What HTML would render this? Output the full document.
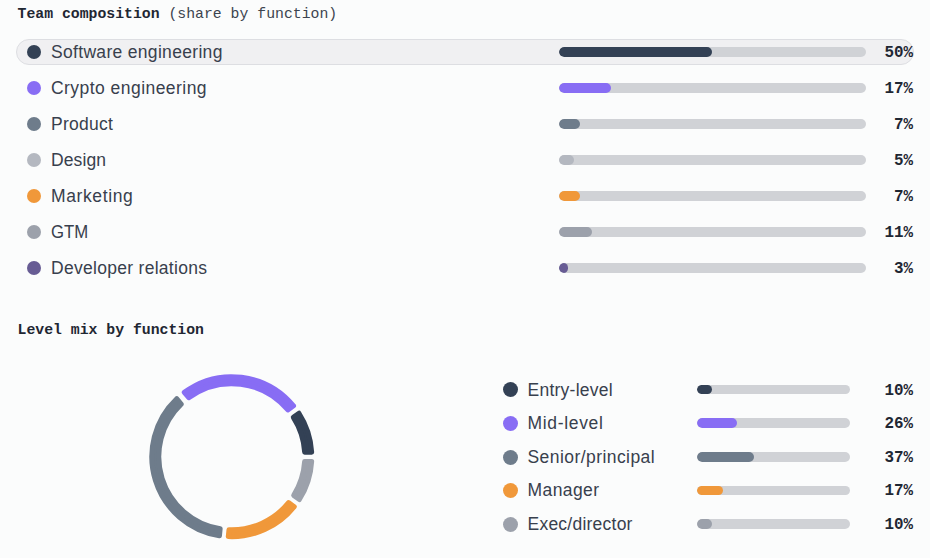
<!DOCTYPE html>
<html lang="en"><head><meta charset="utf-8"><title>Team composition</title>
<style>
html,body{margin:0;padding:0}
body{width:930px;height:558px;background:#fbfcfc;position:relative;overflow:hidden;
 font-family:"Liberation Sans",Arial,sans-serif;color:#38404d}
.t{position:absolute;left:17.5px;font-family:"Liberation Mono",monospace;font-size:14.8px;line-height:20px;white-space:pre;color:#3c444f}
.t b{font-weight:700;color:#1f2733}
.pill{position:absolute;left:16px;top:39px;width:896px;height:24px;border:1px solid #dddee2;border-radius:13px;background:#f0f0f2}
.dot{position:absolute;width:14px;height:14px;border-radius:50%}
.dot.lg{width:15px;height:15px}
.lb{position:absolute;font-size:17.5px;line-height:24px;white-space:nowrap;transform-origin:0 50%}
.tr{position:absolute;height:10px;border-radius:5px;background:#d0d2d6;overflow:hidden}
.tr i{display:block;height:10px;border-radius:5px}
.pc{position:absolute;font-family:"Liberation Mono",monospace;font-weight:700;font-size:15.9px;line-height:20px;text-align:right;width:60px;color:#1f2733}
</style></head><body>
<div class="t" style="top:4px"><b>Team composition</b> (share by function)</div>
<div class="pill"></div>
<div class="dot" style="left:27px;top:45px;background:#334155"></div><div class="lb" style="left:51px;top:39.5px;letter-spacing:0.316px">Software engineering</div><div class="tr" style="left:559px;top:47px;width:307px"><i style="width:49.75%;background:#334155"></i></div><div class="pc" style="left:853px;top:43px">50%</div>
<div class="dot" style="left:27px;top:81px;background:#886df4"></div><div class="lb" style="left:51px;top:75.5px;letter-spacing:0.454px">Crypto engineering</div><div class="tr" style="left:559px;top:83px;width:307px"><i style="width:17%;background:#886df4"></i></div><div class="pc" style="left:853px;top:79px">17%</div>
<div class="dot" style="left:27px;top:117px;background:#6e7c8b"></div><div class="lb" style="left:51px;top:111.5px;letter-spacing:0.257px">Product</div><div class="tr" style="left:559px;top:119px;width:307px"><i style="width:7%;background:#6e7c8b"></i></div><div class="pc" style="left:853px;top:115px">7%</div>
<div class="dot" style="left:27px;top:153px;background:#b4b8c0"></div><div class="lb" style="left:51px;top:147.5px;letter-spacing:0.124px">Design</div><div class="tr" style="left:559px;top:155px;width:307px"><i style="width:5%;background:#b4b8c0"></i></div><div class="pc" style="left:853px;top:151px">5%</div>
<div class="dot" style="left:27px;top:189px;background:#f0983a"></div><div class="lb" style="left:51px;top:183.5px;letter-spacing:0.620px">Marketing</div><div class="tr" style="left:559px;top:191px;width:307px"><i style="width:7%;background:#f0983a"></i></div><div class="pc" style="left:853px;top:187px">7%</div>
<div class="dot" style="left:27px;top:225px;background:#9ca1ab"></div><div class="lb" style="left:51px;top:219.5px;transform:scaleX(0.9565)">GTM</div><div class="tr" style="left:559px;top:227px;width:307px"><i style="width:10.6%;background:#9ca1ab"></i></div><div class="pc" style="left:853px;top:223px">11%</div>
<div class="dot" style="left:27px;top:261px;background:#675c94"></div><div class="lb" style="left:51px;top:255.5px;letter-spacing:0.290px">Developer relations</div><div class="tr" style="left:559px;top:263px;width:307px"><i style="width:3%;background:#675c94"></i></div><div class="pc" style="left:853px;top:259px">3%</div>
<div class="t" style="top:320px"><b>Level mix by function</b></div>
<svg width="930" height="558" style="position:absolute;left:0;top:0" viewBox="0 0 930 558">
<path d="M311.67 452.14 A80.00 80.00 0 0 0 298.97 413.24 L293.31 417.38 A73.00 73.00 0 0 1 304.66 452.13 Z" fill="#334155" stroke="#334155" stroke-width="5.0" stroke-linejoin="round"/>
<path d="M293.53 405.82 A80.00 80.00 0 0 0 184.27 392.35 L188.78 397.73 A73.00 73.00 0 0 1 287.87 409.96 Z" fill="#886df4" stroke="#886df4" stroke-width="5.0" stroke-linejoin="round"/>
<path d="M176.68 398.72 A80.00 80.00 0 0 0 219.44 535.74 L220.14 528.76 A73.00 73.00 0 0 1 181.19 404.09 Z" fill="#6e7c8b" stroke="#6e7c8b" stroke-width="5.0" stroke-linejoin="round"/>
<path d="M228.29 536.62 A80.00 80.00 0 0 0 294.28 506.67 L288.57 502.60 A73.00 73.00 0 0 1 228.99 529.65 Z" fill="#f0983a" stroke="#f0983a" stroke-width="5.0" stroke-linejoin="round"/>
<path d="M299.39 499.50 A80.00 80.00 0 0 0 311.65 461.54 L304.64 461.53 A73.00 73.00 0 0 1 293.68 495.43 Z" fill="#9ca1ab" stroke="#9ca1ab" stroke-width="5.0" stroke-linejoin="round"/>
</svg>
<div class="dot lg" style="left:503px;top:382.0px;background:#334155"></div><div class="lb" style="left:527.5px;top:377.5px;letter-spacing:0.253px">Entry-level</div><div class="tr" style="left:697px;top:385px;width:153px;height:9px"><i style="width:10%;height:9px;background:#334155"></i></div><div class="pc" style="left:853px;top:381px">10%</div>
<div class="dot lg" style="left:503px;top:415.5px;background:#886df4"></div><div class="lb" style="left:527.5px;top:410.5px;letter-spacing:0.671px">Mid-level</div><div class="tr" style="left:697px;top:418px;width:153px;height:10px"><i style="width:26%;height:10px;background:#886df4"></i></div><div class="pc" style="left:853px;top:414px">26%</div>
<div class="dot lg" style="left:503px;top:449.5px;background:#6e7c8b"></div><div class="lb" style="left:527.5px;top:444.5px;letter-spacing:0.432px">Senior/principal</div><div class="tr" style="left:697px;top:452px;width:153px;height:10px"><i style="width:37%;height:10px;background:#6e7c8b"></i></div><div class="pc" style="left:853px;top:448px">37%</div>
<div class="dot lg" style="left:503px;top:483.0px;background:#f0983a"></div><div class="lb" style="left:527.5px;top:478.0px;letter-spacing:0.412px">Manager</div><div class="tr" style="left:697px;top:486px;width:153px;height:9px"><i style="width:16.75%;height:9px;background:#f0983a"></i></div><div class="pc" style="left:853px;top:481px">17%</div>
<div class="dot lg" style="left:503px;top:516.5px;background:#9ca1ab"></div><div class="lb" style="left:527.5px;top:512.0px;letter-spacing:0.235px">Exec/director</div><div class="tr" style="left:697px;top:519px;width:153px;height:10px"><i style="width:9.8%;height:10px;background:#9ca1ab"></i></div><div class="pc" style="left:853px;top:515px">10%</div>
</body></html>
